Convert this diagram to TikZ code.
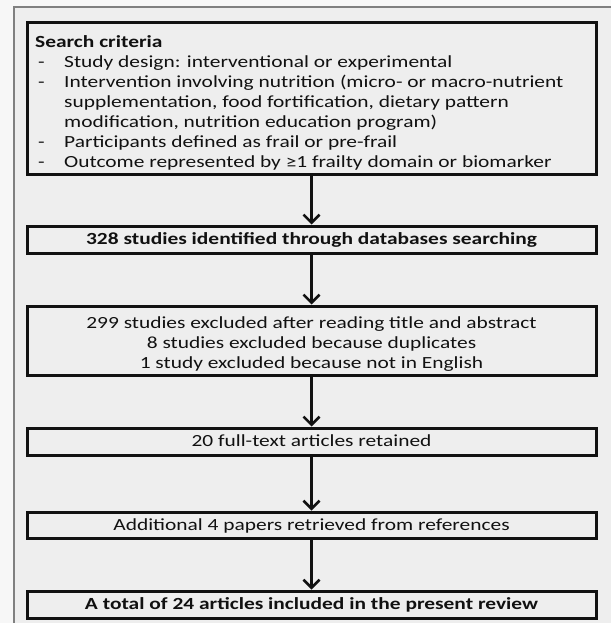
\documentclass[tikz,border=0pt]{standalone}
\usepackage{fontspec}
\usepackage{graphicx}
\setmainfont{Carlito}
\usetikzlibrary{arrows.meta}
\definecolor{bgin}{HTML}{EEEEEE}
\definecolor{bgout}{HTML}{F7F7F7}
\definecolor{framec}{HTML}{808080}
\definecolor{ink}{HTML}{111111}
\newcommand\wl[1]{\scalebox{1.26}[1]{#1}}
\tikzset{
  flowbox/.style={draw=ink, line width=3pt, minimum width=569pt, inner sep=0pt,
    align=center, font=\fontsize{17}{20}\selectfont, text=ink},
  flowarrow/.style={draw=ink, line width=2.6pt,
    -{Straight Barb[length=8pt,width=16pt,line width=2.6pt]}},
}
\begin{document}
\begin{tikzpicture}[x=1pt,y=-1pt]
\useasboundingbox (0,0) rectangle (611,623);
\fill[bgout] (0,0) rectangle (611,623);
\fill[bgin] (14,7) rectangle (611,623);
\draw[framec, line width=2pt] (14,623) -- (14,7) -- (611,7);

\node[flowbox, minimum height=151pt] (box1) at (311.5,98.5) {};
\node[anchor=north west, inner sep=0pt, align=left, text=ink,
  font=\fontsize{17}{20}\selectfont] (crit) at (35,33) {%
  \strut\wl{\textbf{Search criteria}}\\
  \makebox[29pt][l]{\hspace{3pt}\wl{-}}\wl{Study design: interventional or experimental}\\
  \makebox[29pt][l]{\hspace{3pt}\wl{-}}\wl{Intervention involving nutrition (micro- or macro-nutrient}\\
  \hspace*{29pt}\wl{supplementation, food fortification, dietary pattern}\\
  \hspace*{29pt}\wl{modification, nutrition education program)}\\
  \makebox[29pt][l]{\hspace{3pt}\wl{-}}\wl{Participants defined as frail or pre-frail}\\
  \makebox[29pt][l]{\hspace{3pt}\wl{-}}\wl{Outcome represented by ≥1 frailty domain or biomarker}};

\node[flowbox, minimum height=27pt, text height=10.8pt, text depth=0pt] (box2) at (311.5,239.5)
  {\wl{\textbf{328 studies identified through databases searching}}};
\node[flowbox, minimum height=69pt] (box3) at (311.5,340.5)
  {\rule{0pt}{18pt}\wl{299 studies excluded after reading title and abstract}\\
   \wl{8 studies excluded because duplicates}\\
   \wl{1 study excluded because not in English}};
\node[flowbox, minimum height=27pt, text height=10.8pt, text depth=0pt] (box4) at (311.5,441.5)
  {\wl{20 full-text articles retained}};
\node[flowbox, minimum height=26pt, text height=10.8pt, text depth=0pt] (box5) at (311.5,525)
  {\wl{Additional 4 papers retrieved from references}};
\node[flowbox, minimum height=27pt, text height=10.8pt, text depth=0pt] (box6) at (311.5,604.5)
  {\wl{\textbf{A total of 24 articles included in the present review}}};

\draw[flowarrow] (box1.south) -- (box2.north);
\draw[flowarrow] (box2.south) -- (box3.north);
\draw[flowarrow] (box3.south) -- (box4.north);
\draw[flowarrow] (box4.south) -- (box5.north);
\draw[flowarrow] (box5.south) -- (box6.north);
\end{tikzpicture}
\end{document}
